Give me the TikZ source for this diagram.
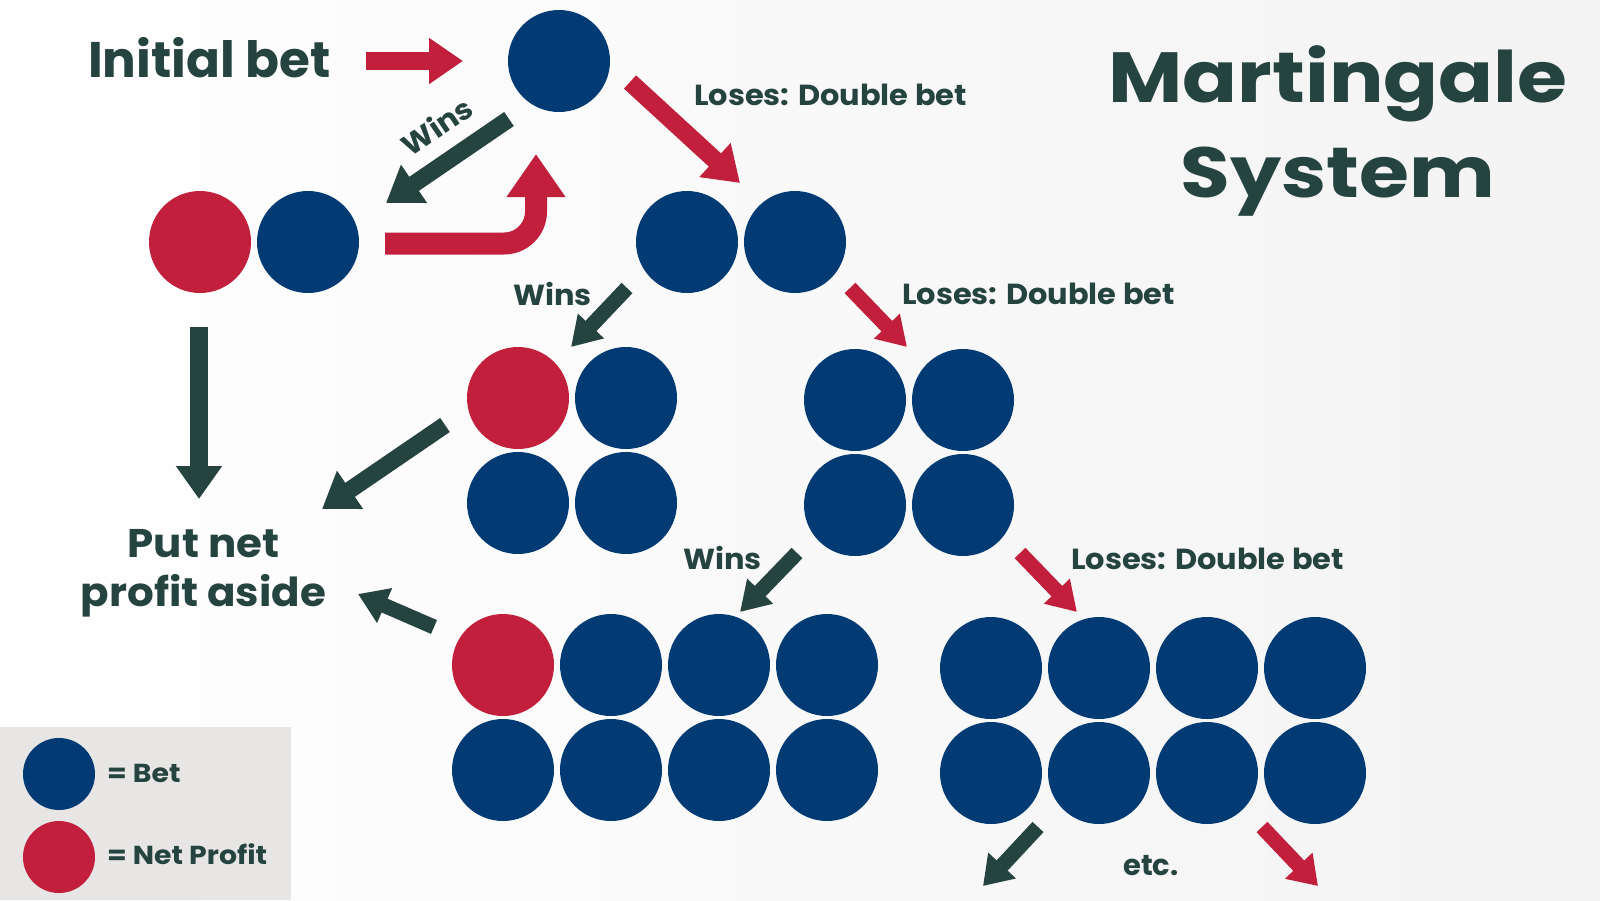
\documentclass[tikz,border=0pt]{standalone}
\usepackage{fontspec}
\setmainfont{Poppins}
\newfontfamily\titlefont{Poppins}[FakeStretch=1.14]
\newfontfamily\lblfont{Poppins}[FakeStretch=1.05]
\newfontfamily\legfont{Poppins}[FakeStretch=1.09]
\usetikzlibrary{arrows.meta}
\definecolor{betblue}{HTML}{023A74}
\definecolor{profred}{HTML}{C21F3C}
\definecolor{dgreen}{HTML}{25433F}
\definecolor{legendgray}{HTML}{E8E6E5}
\definecolor{bggray}{HTML}{F3F3F3}
\tikzset{
  coin/.style={circle, minimum size=102pt, inner sep=0pt, draw=none},
  bet/.style={coin, fill=betblue},
  profit/.style={coin, fill=profred},
  smallcoin/.style={circle, minimum size=72pt, inner sep=0pt, draw=none},
  garrow/.style={draw=dgreen, line width=17pt, -{Triangle[width=44pt,length=34pt]}},
  rarrow/.style={draw=profred, line width=17pt, -{Triangle[width=44pt,length=34pt]}},
  gsmall/.style={draw=dgreen, line width=15pt, -{Triangle[width=34pt,length=29pt]}},
  rsmall/.style={draw=profred, line width=15pt, -{Triangle[width=34pt,length=29pt]}},
  lbl/.style={text=dgreen, font=\lblfont\bfseries\fontsize{29}{35}\selectfont, inner sep=0pt, anchor=base west},
  legtxt/.style={text=dgreen, font=\legfont\bfseries\fontsize{26}{30}\selectfont, inner sep=0pt, anchor=base west},
}
\begin{document}
\begin{tikzpicture}[x=1pt,y=-1pt]
\useasboundingbox (0,0) rectangle (1600,900);
\fill[left color=white, right color=bggray] (0,0) rectangle (1600,900);

% legend
\fill[legendgray] (0,727) rectangle (291,900);
\node[smallcoin, fill=betblue] (legbet) at (59,774) {};
\node[smallcoin, fill=profred] (legprof) at (59,857) {};
\node[legtxt] (legbettxt) at (107,782) {= Bet};
\node[legtxt] (legproftxt) at (107,864) {= Net Profit};

% title
\node[text=dgreen, font=\titlefont\bfseries\fontsize{71}{95}\selectfont, align=center, inner sep=0pt] (title) at (1338,131) {Martingale\\System};

% texts
\node[text=dgreen, font=\bfseries\fontsize{50}{60}\selectfont, inner sep=0pt, anchor=base west] (initial) at (88,77) {Initial bet};
\node[text=dgreen, font=\lblfont\bfseries\fontsize{40}{49.5}\selectfont, align=center, inner sep=0pt] (aside) at (203.5,573.5) {Put net\\profit aside};

% circles
\node[bet] (c0) at (559,61) {};
\node[profit] (w1a) at (200,242) {};
\node[bet] (w1b) at (308,242) {};
\node[bet] (l1a) at (687,242) {};
\node[bet] (l1b) at (795,242) {};

\node[profit] (w2a) at (518,398) {};
\node[bet] (w2b) at (626,398) {};
\node[bet] (w2c) at (518,503) {};
\node[bet] (w2d) at (626,503) {};

\node[bet] (l2a) at (855,400) {};
\node[bet] (l2b) at (963,400) {};
\node[bet] (l2c) at (855,505) {};
\node[bet] (l2d) at (963,505) {};

\node[profit] (w3a) at (503,665) {};
\node[bet] (w3b) at (611,665) {};
\node[bet] (w3c) at (719,665) {};
\node[bet] (w3d) at (827,665) {};
\node[bet] (w3e) at (503,770) {};
\node[bet] (w3f) at (611,770) {};
\node[bet] (w3g) at (719,770) {};
\node[bet] (w3h) at (827,770) {};

\node[bet] (l3a) at (991,668) {};
\node[bet] (l3b) at (1099,668) {};
\node[bet] (l3c) at (1207,668) {};
\node[bet] (l3d) at (1315,668) {};
\node[bet] (l3e) at (991,773) {};
\node[bet] (l3f) at (1099,773) {};
\node[bet] (l3g) at (1207,773) {};
\node[bet] (l3h) at (1315,773) {};

% labels
\node[text=dgreen, font=\lblfont\bfseries\fontsize{29}{35}\selectfont, inner sep=0pt, rotate=34] (wins1) at (437,126) {Wins};
\node[lbl] (loses1) at (694,105) {Loses: Double bet};
\node[lbl] (wins2) at (513,305) {Wins};
\node[lbl] (loses2) at (902,304) {Loses: Double bet};
\node[lbl] (wins3) at (683,569) {Wins};
\node[lbl] (loses3) at (1071,569) {Loses: Double bet};
\node[text=dgreen, font=\bfseries\fontsize{29}{35}\selectfont, inner sep=0pt, anchor=base west] (etc) at (1123,875) {etc.};

% arrow end points
\coordinate (a1s) at (366,61);   \coordinate (a1e) at (463,61);
\coordinate (a2s) at (509,119);  \coordinate (a2e) at (386,203);
\coordinate (a3s) at (385,243.5);\coordinate (a3e) at (536,154);
\coordinate (a4s) at (630,82);   \coordinate (a4e) at (740,183);
\coordinate (a5s) at (627,288);  \coordinate (a5e) at (571,347);
\coordinate (a6s) at (850,288);  \coordinate (a6e) at (907,347);
\coordinate (a7s) at (445,425);  \coordinate (a7e) at (322,509);
\coordinate (a8s) at (199,327);  \coordinate (a8e) at (199,499);
\coordinate (a9s) at (434,627);  \coordinate (a9e) at (358,594);
\coordinate (a10s) at (797,553); \coordinate (a10e) at (740,612);
\coordinate (a11s) at (1020,553);\coordinate (a11e) at (1077,612);
\coordinate (a12s) at (1038,827);\coordinate (a12e) at (983,886);
\coordinate (a13s) at (1262,827);\coordinate (a13e) at (1318,886);

\draw[rarrow, line width=18pt] (a1s) -- (a1e);
\draw[garrow] (a2s) -- (a2e);
\draw[draw=profred, line width=22pt, rounded corners=32pt, -{Triangle[width=56pt,length=43pt]}] (a3s) -| (a3e);
\draw[rarrow, line width=18pt] (a4s) -- (a4e);
\draw[gsmall] (a5s) -- (a5e);
\draw[rsmall] (a6s) -- (a6e);
\draw[garrow] (a7s) -- (a7e);
\draw[garrow, line width=18pt, -{Triangle[width=44pt,length=33pt]}] (a8s) -- (a8e);
\draw[gsmall, -{Triangle[width=36pt,length=29pt]}] (a9s) -- (a9e);
\draw[gsmall] (a10s) -- (a10e);
\draw[rsmall] (a11s) -- (a11e);
\draw[gsmall, -{Triangle[width=36pt,length=28pt]}] (a12s) -- (a12e);
\draw[rsmall, -{Triangle[width=36pt,length=28pt]}] (a13s) -- (a13e);
\end{tikzpicture}
\end{document}
